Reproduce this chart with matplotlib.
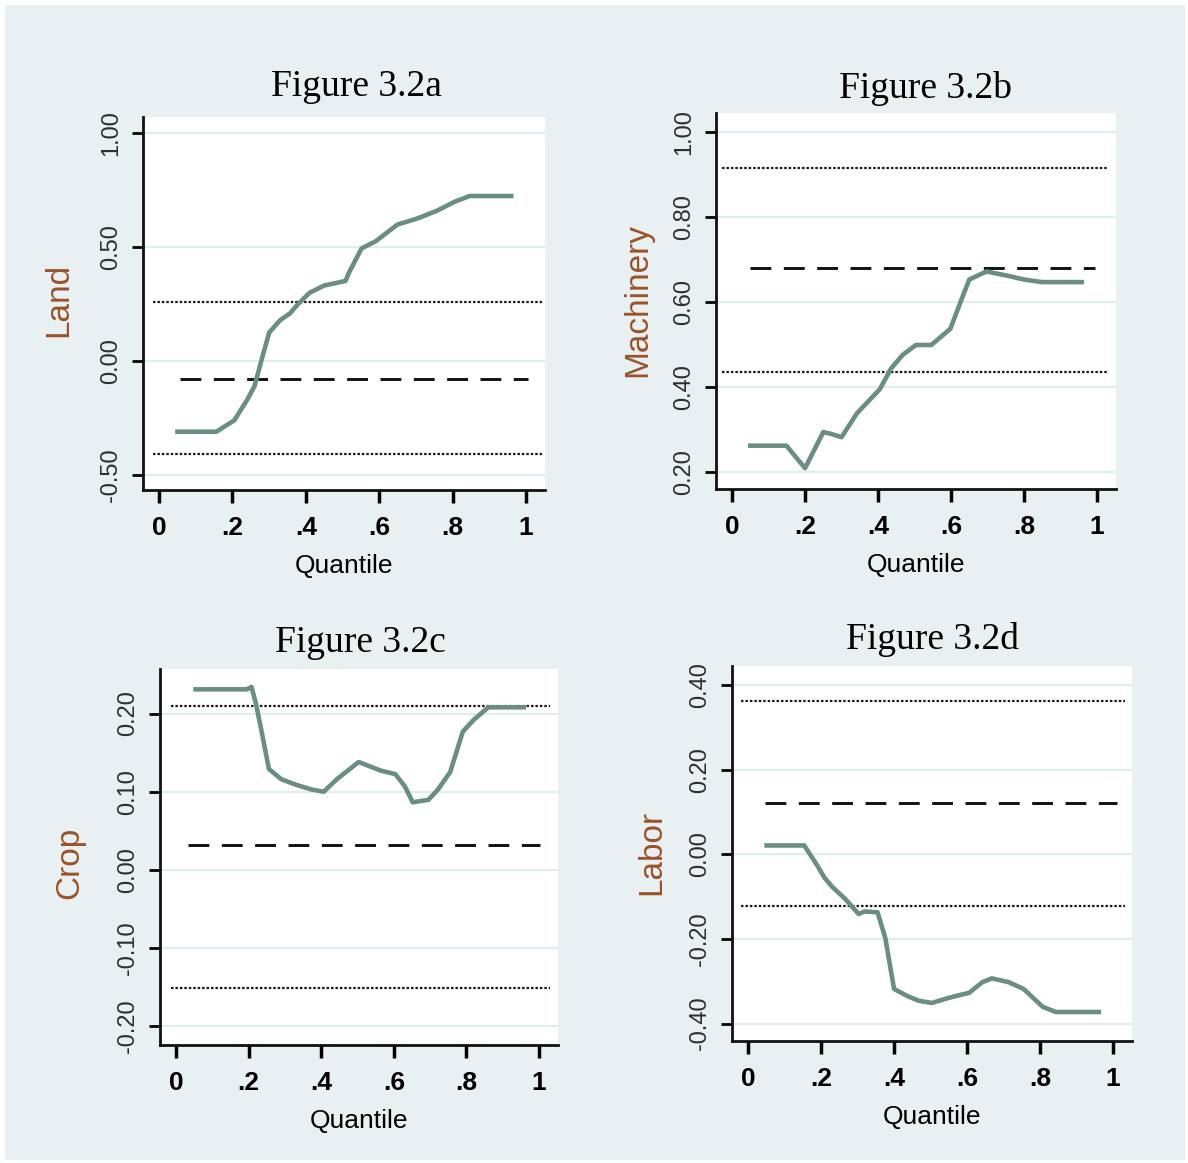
#!/usr/bin/env python3

import numpy as np
import matplotlib
matplotlib.use("Agg")
import matplotlib.pyplot as plt
from matplotlib import font_manager
from matplotlib.patches import Rectangle

# ---- data ----
titles = ["Figure 3.2a", "Figure 3.2b", "Figure 3.2c", "Figure 3.2d"]
ylabels = ["Land", "Machinery", "Crop", "Labor"]
xtick_vals = [0, 0.2, 0.4, 0.6, 0.8, 1.0]
xtick_labels = ["0", ".2", ".4", ".6", ".8", "1"]

a_yticks = [-0.5, 0.0, 0.5, 1.0]
a_q = [0.05, 0.156, 0.205, 0.24, 0.26, 0.28, 0.30, 0.33, 0.357, 0.376, 0.41,
       0.45, 0.508, 0.518, 0.552, 0.59, 0.65, 0.70, 0.757, 0.806, 0.846, 0.96]
a_coef = [-0.31, -0.31, -0.26, -0.17, -0.11, 0.01, 0.125, 0.18, 0.21, 0.246,
          0.30, 0.332, 0.352, 0.39, 0.495, 0.526, 0.60, 0.624, 0.66, 0.70,
          0.725, 0.725]
a_ols = -0.079
a_ci = [-0.406, 0.258]

b_yticks = [0.2, 0.4, 0.6, 0.8, 1.0]
b_q = [0.05, 0.149, 0.2, 0.25, 0.27, 0.30, 0.342, 0.405, 0.436, 0.468, 0.504,
       0.546, 0.598, 0.63, 0.65, 0.697, 0.76, 0.80, 0.849, 0.958]
b_coef = [0.261, 0.261, 0.208, 0.293, 0.289, 0.281, 0.337, 0.394, 0.443,
          0.475, 0.498, 0.498, 0.536, 0.608, 0.652, 0.671, 0.66, 0.652,
          0.646, 0.646]
b_ols = 0.68
b_ci = [0.435, 0.915]

c_yticks = [-0.2, -0.1, 0.0, 0.1, 0.2]
c_q = [0.054, 0.195, 0.208, 0.22, 0.235, 0.256, 0.29, 0.33, 0.372, 0.407,
       0.443, 0.503, 0.564, 0.604, 0.63, 0.652, 0.695, 0.72, 0.755, 0.79,
       0.82, 0.86, 0.958]
c_coef = [0.231, 0.231, 0.234, 0.213, 0.179, 0.129, 0.116, 0.109, 0.103,
          0.100, 0.116, 0.138, 0.127, 0.1225, 0.107, 0.0865, 0.0896, 0.102,
          0.125, 0.177, 0.192, 0.208, 0.208]
c_ols = 0.032
c_ci = [-0.151, 0.2095]

d_yticks = [-0.4, -0.2, 0.0, 0.2, 0.4]
d_q = [0.051, 0.154, 0.19, 0.21, 0.231, 0.267, 0.303, 0.319, 0.355, 0.376,
       0.40, 0.437, 0.468, 0.504, 0.55, 0.606, 0.642, 0.668, 0.714, 0.755,
       0.807, 0.843, 0.961]
d_coef = [0.021, 0.021, -0.027, -0.056, -0.077, -0.106, -0.141, -0.135,
          -0.137, -0.1975, -0.318, -0.335, -0.346, -0.351, -0.339, -0.327,
          -0.302, -0.293, -0.302, -0.318, -0.36, -0.3725, -0.3725]
d_ols = 0.121
d_ci = [-0.1225, 0.3625]

# x extent of the reference lines (dotted ci, dashed ols)
dot_span = [[-0.017, 1.043], [-0.028, 1.026], [-0.015, 1.03], [-0.02, 1.032]]
dash_span = [[0.057, 1.007], [0.05, 0.995], [0.033, 1.003], [0.046, 1.01]]

W, H = 1188, 1163
BG = "#e8f0f2"
GREEN = "#6a8f80"


def pick_font(names, fallback):
    """ return the first installed family """
    have = {f.name for f in font_manager.fontManager.ttflist}
    for n in names:
        if n in have:
            return n
    return fallback


def main():
    sans = pick_font(["Liberation Sans", "Arial"], "DejaVu Sans")
    serif = pick_font(["Liberation Serif", "Times New Roman"], "DejaVu Serif")
    plt.rcParams["lines.scale_dashes"] = False

    fig = plt.figure(figsize=(W / 100, H / 100), dpi=100, facecolor="white")
    fig.patches.append(Rectangle((5 / W, 3 / H), (W - 8) / W, (H - 8) / H,
                                 transform=fig.transFigure, facecolor=BG,
                                 edgecolor="none", zorder=-5))

    # axes boxes in pixels: left, right, top, bottom
    boxes = [(143, 545, 117, 490), (716, 1116, 113, 489),
             (160, 558, 669, 1045), (732, 1132, 666, 1041)]
    ylims = [(-0.566, 1.072), (0.159, 1.044), (-0.224, 0.257), (-0.441, 0.445)]
    yticks = [a_yticks, b_yticks, c_yticks, d_yticks]
    qs = [a_q, b_q, c_q, d_q]
    coefs = [a_coef, b_coef, c_coef, d_coef]
    ols = [a_ols, b_ols, c_ols, d_ols]
    cis = [a_ci, b_ci, c_ci, d_ci]
    title_pos = [(356, 96), (926, 98), (360, 652), (933, 649)]
    ylab_x = [67, 646, 78, 660]
    ylab_y = [300, 300, 863, 852]

    for i in range(4):
        l, r, t, b = boxes[i]
        ax = fig.add_axes([l / W, 1 - b / H, (r - l) / W, (b - t) / H])
        ax.set_zorder(2)
        ax.set_facecolor("white")
        ax.set_xlim(-0.044, 1.052)
        ax.set_ylim(*ylims[i])
        for s in ["top", "right"]:
            ax.spines[s].set_visible(False)
        for s in ["left", "bottom"]:
            ax.spines[s].set_linewidth(2.0)
            ax.spines[s].set_color("#111111")

        ax.set_yticks(yticks[i])
        ax.set_yticklabels([f"{v:.2f}" for v in yticks[i]])
        ax.set_xticks(xtick_vals)
        ax.set_xticklabels(xtick_labels)
        ax.grid(axis="y", color="#e2edf0", linewidth=1.6, zorder=0)
        ax.set_axisbelow(True)
        ax.tick_params(axis="y", length=8, width=2, pad=7, labelsize=17,
                       labelcolor="#2e2e2e", rotation=90)
        ax.tick_params(axis="x", length=9, width=2.5, pad=10, labelsize=19)
        for lab in ax.get_yticklabels():
            lab.set_family(sans)
            lab.set_verticalalignment("center")
        for lab in ax.get_xticklabels():
            lab.set_family(sans)
            lab.set_fontweight("bold")
        ax.set_xlabel("Quantile", fontsize=19, family=sans, color="#000000",
                      labelpad=10)

        # confidence bounds and ols estimate
        for v in cis[i]:
            ax.plot(dot_span[i], [v, v], color="#1a1a1a", lw=1.6,
                    dashes=(1.8, 1.4))
        ax.plot(dash_span[i], [ols[i], ols[i]], color="#111111", lw=2.1,
                dashes=(15, 9))
        # quantile regression coefficients
        ax.plot(qs[i], coefs[i], color=GREEN, lw=3.3, solid_joinstyle="round")

        fig.text(title_pos[i][0] / W, 1 - title_pos[i][1] / H, titles[i],
                 family=serif, fontsize=27, ha="center", va="baseline")
        fig.text(ylab_x[i] / W, 1 - ylab_y[i] / H, ylabels[i], family=sans,
                 fontsize=24, color="#9a5228", rotation=90,
                 rotation_mode="anchor", ha="center", va="baseline")

    fig.savefig("out.png", dpi=100, facecolor=fig.get_facecolor())


if __name__ == "__main__":
    main()
